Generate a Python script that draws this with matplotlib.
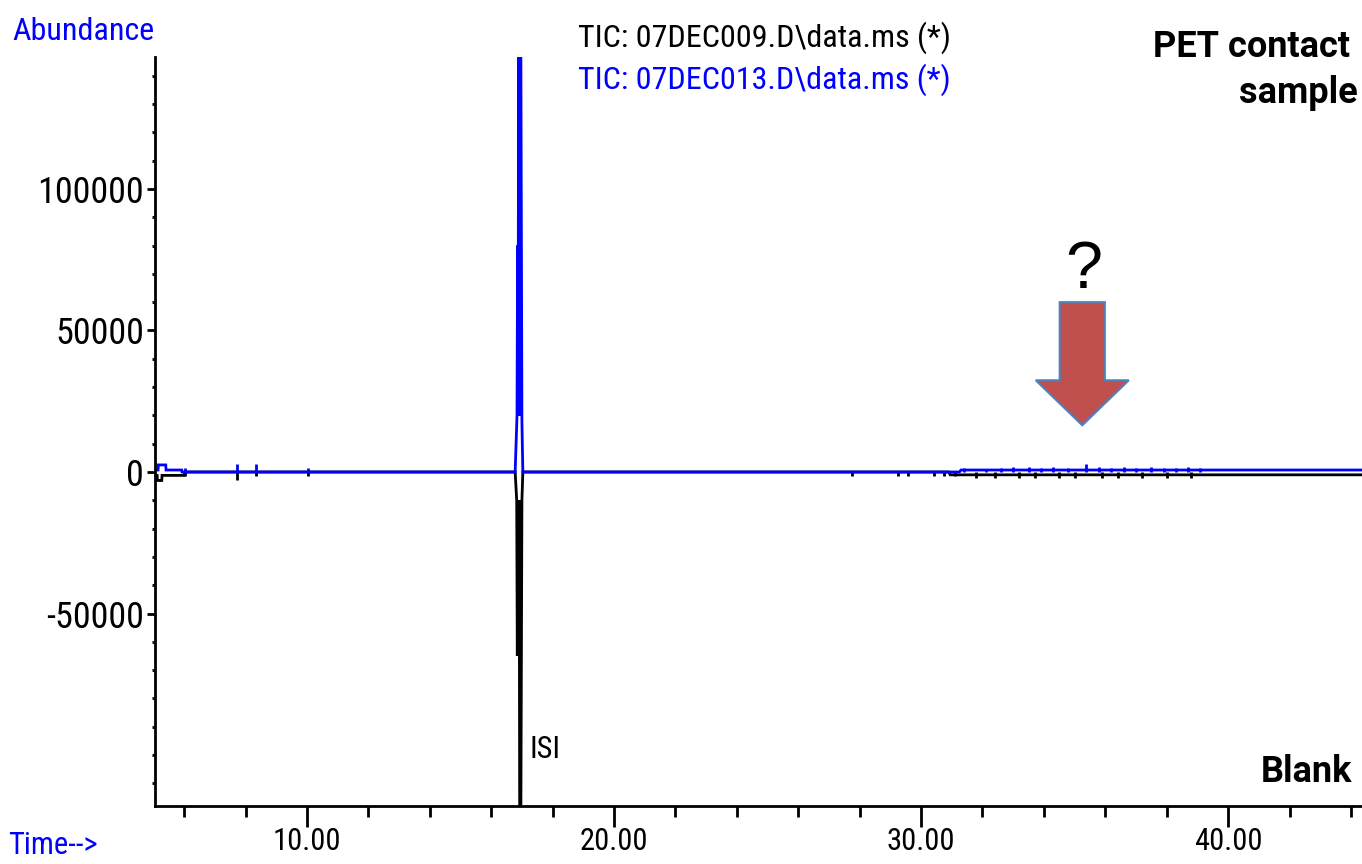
import matplotlib
matplotlib.use("Agg")
import matplotlib.pyplot as plt
from matplotlib.patches import FancyArrow
from matplotlib.ticker import MultipleLocator, FormatStrFormatter

plt.rcParams['axes.unicode_minus'] = False

# blue trace: PET contact sample (07DEC013)
sample_t = [5.05, 5.15, 5.16, 5.40, 5.41, 5.92, 5.93, 16.78, 16.84, 16.86, 16.87,
            16.90, 16.93, 16.96, 17.00, 17.03, 31.25, 31.30, 44.40]
sample_a = [700, 700, 2500, 2500, 700, 700, 0, 0, 20000, 80000, 20000,
            170000, 20000, 170000, 18000, 0, 0, 700, 700]

# blank trace, drawn inverted (07DEC009)
blank_t = [5.05, 5.12, 5.13, 5.27, 5.28, 6.00, 6.02, 16.78, 16.83, 16.85, 16.87,
           16.89, 16.91, 16.93, 16.96, 17.00, 17.03, 30.90, 30.95, 44.40]
blank_a = [-1200, -1200, -3000, -3000, -1200, -1200, 0, 0, -10000, -65000, -10000,
           -65000, -10000, -140000, -140000, -10000, 0, 0, -1000, -1000]

# small spikes on the sample trace
sample_spike_t = [6.03, 7.72, 8.34, 10.03, 31.4, 32.1, 32.6, 33.0, 33.5, 33.9, 34.3,
                  34.8, 35.37, 35.8, 36.2, 36.6, 37.0, 37.5, 37.9, 38.3, 38.7, 39.1]
sample_spike_a = [1500, 3000, 3000, 1500, 1500, 1200, 1500, 1800, 1800, 1500, 1800,
                  1500, 3000, 1800, 1500, 1800, 1500, 1800, 1500, 1500, 1800, 1500]

# small spikes on the blank trace
blank_spike_t = [6.03, 7.72, 8.34, 10.03, 27.75, 29.25, 29.58, 30.42, 30.75, 31.1,
                 31.8, 32.4, 33.2, 33.7, 34.5, 35.0, 35.9, 36.4, 37.2, 38.0, 38.8]
blank_spike_a = [-1500, -3000, -1500, -1500, -1500, -1500, -1500, -1500, -1500, -1500,
                 -2000, -2000, -2000, -2000, -2000, -2000, -2000, -2000, -2000, -2000, -2000]

x_major = [10, 20, 30, 40]
y_major = [-50000, 0, 50000, 100000]

BLUE = '#0000FF'
narrow = ['Roboto Condensed', 'DejaVu Sans']

fig = plt.figure(figsize=(13.62, 8.64), dpi=100)
ax = fig.add_axes([0.1138, 0.0671, 0.8862, 0.8669])

ax.plot(blank_t, blank_a, color='black', lw=2.0, solid_joinstyle='miter')
ax.vlines(blank_spike_t, 0, blank_spike_a, color='black', lw=2.0)
ax.plot(sample_t, sample_a, color=BLUE, lw=2.0, solid_joinstyle='miter')
ax.vlines(sample_spike_t, 0, sample_spike_a, color=BLUE, lw=2.0)

ax.set_xlim(5.05, 44.36)
ax.set_ylim(-118000, 146600)

for s in ['top', 'right']:
    ax.spines[s].set_visible(False)
for s in ['left', 'bottom']:
    ax.spines[s].set_linewidth(2.0)

ax.set_xticks(x_major)
ax.xaxis.set_minor_locator(MultipleLocator(2))
ax.xaxis.set_major_formatter(FormatStrFormatter('%.2f'))
ax.set_yticks(y_major)
ax.yaxis.set_minor_locator(MultipleLocator(10000))
ax.tick_params(axis='x', which='major', direction='out', length=15, width=2, pad=0)
ax.tick_params(axis='x', which='minor', direction='out', length=8, width=2)
ax.tick_params(axis='y', which='major', direction='out', length=6, width=2, pad=2)
ax.tick_params(axis='y', which='minor', direction='out', length=2.5, width=2)
for lab in ax.get_xticklabels():
    lab.set_fontfamily(narrow)
    lab.set_fontsize(22)
for lab in ax.get_yticklabels():
    lab.set_fontfamily(narrow)
    lab.set_fontsize(26)

ax.text(17.25, -98000, 'ISI', family=narrow, fontsize=22, va='center', ha='left')

# red arrow and question mark
ax.add_patch(FancyArrow(35.25, 60000, 0, -43500, width=1.47, head_width=3.03,
                        head_length=15900, length_includes_head=True,
                        facecolor='#C0504D', edgecolor='#4F81BD', lw=1.5, zorder=5))
ax.text(35.3, 71000, '?', fontsize=48, family='Liberation Sans', ha='center', va='center')

# axis captions and legend
fig.text(12 / 1362, 1 - 31 / 864, 'Abundance', color=BLUE, family=narrow, fontsize=23,
         ha='left', va='center')
fig.text(8 / 1362, 1 - 846 / 864, 'Time-->', color=BLUE, family=narrow, fontsize=22,
         ha='left', va='center')
fig.text(764 / 1362, 1 - 38 / 864, 'TIC: 07DEC009.D\\data.ms (*)', color='black',
         family=narrow, fontsize=23, ha='center', va='center')
fig.text(764 / 1362, 1 - 80 / 864, 'TIC: 07DEC013.D\\data.ms (*)', color=BLUE,
         family=narrow, fontsize=23, ha='center', va='center')

fig.text(1350 / 1362, 1 - 47 / 864, 'PET contact', family='Roboto', weight='bold',
         fontsize=26, ha='right', va='center')
fig.text(1358 / 1362, 1 - 93 / 864, 'sample', family='Roboto', weight='bold',
         fontsize=26, ha='right', va='center')
fig.text(1352 / 1362, 1 - 772 / 864, 'Blank', family='Roboto', weight='bold',
         fontsize=26, ha='right', va='center')

fig.savefig('out.png', dpi=100)
